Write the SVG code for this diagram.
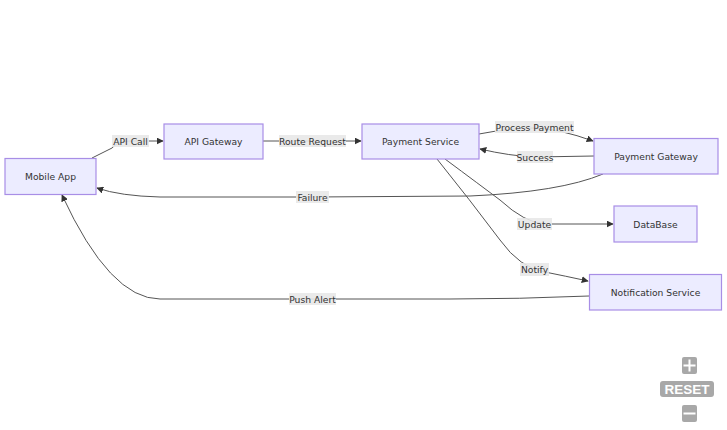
<svg xmlns="http://www.w3.org/2000/svg" width="727" height="430" viewBox="0 0 727 430">
<style>
.node rect{fill:#ECECFF;stroke:#a88ee6;stroke-width:1.2}
.node text{font-family:"DejaVu Sans","Liberation Sans",sans-serif;font-size:9.2px;fill:#333;text-anchor:middle;dominant-baseline:central}
.edge{fill:none;stroke:#555;stroke-width:1}
.lbl rect{fill:#e8e8e8;opacity:0.9}
.lbl text{font-family:"DejaVu Sans","Liberation Sans",sans-serif;font-size:9.2px;fill:#333;text-anchor:middle;dominant-baseline:central}
.ctl{fill:#a8a8a8}
</style>
<defs>
<marker id="arr" viewBox="0 0 10 10" refX="9" refY="5" markerWidth="7" markerHeight="7" markerUnits="userSpaceOnUse" orient="auto">
<path d="M0,0 L10,5 L0,10 z" fill="#333"/>
</marker>
</defs>
<g id="connectors">
<path class="edge" d="M92,158 L112,148 Q118,141 130,141 L163,141" marker-end="url(#arr)"/>
<path class="edge" d="M263,141 L361,141" marker-end="url(#arr)"/>
<path class="edge" d="M479,134 Q510,128 535,128 Q560,129 593,141" marker-end="url(#arr)"/>
<path class="edge" d="M594,156 L535,157 Q510,156 480,149" marker-end="url(#arr)"/>
<path class="edge" d="M603,174 Q560,192 470,196 L312,197 L160,197 Q120,196 97,188" marker-end="url(#arr)"/>
<path class="edge" d="M445,159 Q480,185 500,200 Q525,223 545,224 L613,224" marker-end="url(#arr)"/>
<path class="edge" d="M437,159 Q470,200 500,240 Q520,268 545,272 Q565,276 588,281" marker-end="url(#arr)"/>
<path class="edge" d="M589,296 Q520,299 450,299 L160,299 Q110,299 62,195" marker-end="url(#arr)"/>
</g>
<g id="edge-labels">
<g class="lbl"><rect x="112" y="135" width="37" height="12"/><text x="130.5" y="141">API Call</text></g>
<g class="lbl"><rect x="279" y="135" width="67" height="12"/><text x="312.5" y="141">Route Request</text></g>
<g class="lbl"><rect x="495" y="121" width="79" height="12"/><text x="534.5" y="127.5">Process Payment</text></g>
<g class="lbl"><rect x="517" y="151" width="36" height="12"/><text x="535" y="157">Success</text></g>
<g class="lbl"><rect x="296" y="191" width="33" height="12"/><text x="312.5" y="197">Failure</text></g>
<g class="lbl"><rect x="517" y="218" width="35" height="12"/><text x="534.5" y="224">Update</text></g>
<g class="lbl"><rect x="520" y="263" width="29" height="13"/><text x="534.5" y="269.5">Notify</text></g>
<g class="lbl"><rect x="289" y="293" width="47" height="12"/><text x="312.5" y="299">Push Alert</text></g>
</g>
<g id="mobile-app" class="node"><rect x="5" y="158.5" width="91" height="36"/><text x="50.5" y="176.5">Mobile App</text></g>
<g id="api-gateway" class="node"><rect x="164" y="124" width="99" height="35"/><text x="213.5" y="141.5">API Gateway</text></g>
<g id="payment-service" class="node"><rect x="362" y="124" width="117" height="35"/><text x="420.5" y="141.5">Payment Service</text></g>
<g id="payment-gateway" class="node"><rect x="594" y="138.5" width="124" height="35.5"/><text x="656" y="156.5">Payment Gateway</text></g>
<g id="database" class="node"><rect x="614" y="206" width="83" height="36"/><text x="655.5" y="224">DataBase</text></g>
<g id="notification-service" class="node"><rect x="589.5" y="274.5" width="132" height="35.5"/><text x="655.5" y="292.5">Notification Service</text></g>
<g id="controls">
<rect class="ctl" x="682" y="357" width="15" height="17" rx="2"/>
<rect x="688.5" y="359.5" width="2" height="12" fill="#fff"/>
<rect x="683.5" y="364.5" width="12" height="2" fill="#fff"/>
<rect class="ctl" x="660" y="381" width="54" height="16" rx="3"/>
<text x="687" y="389.5" font-family="'Liberation Sans',Arial,sans-serif" font-weight="bold" font-size="13.5" fill="#fff" text-anchor="middle" dominant-baseline="central">RESET</text>
<rect class="ctl" x="682" y="405" width="15" height="17" rx="2"/>
<rect x="683.5" y="412.5" width="12" height="2" fill="#fff"/>
</g>
</svg>
